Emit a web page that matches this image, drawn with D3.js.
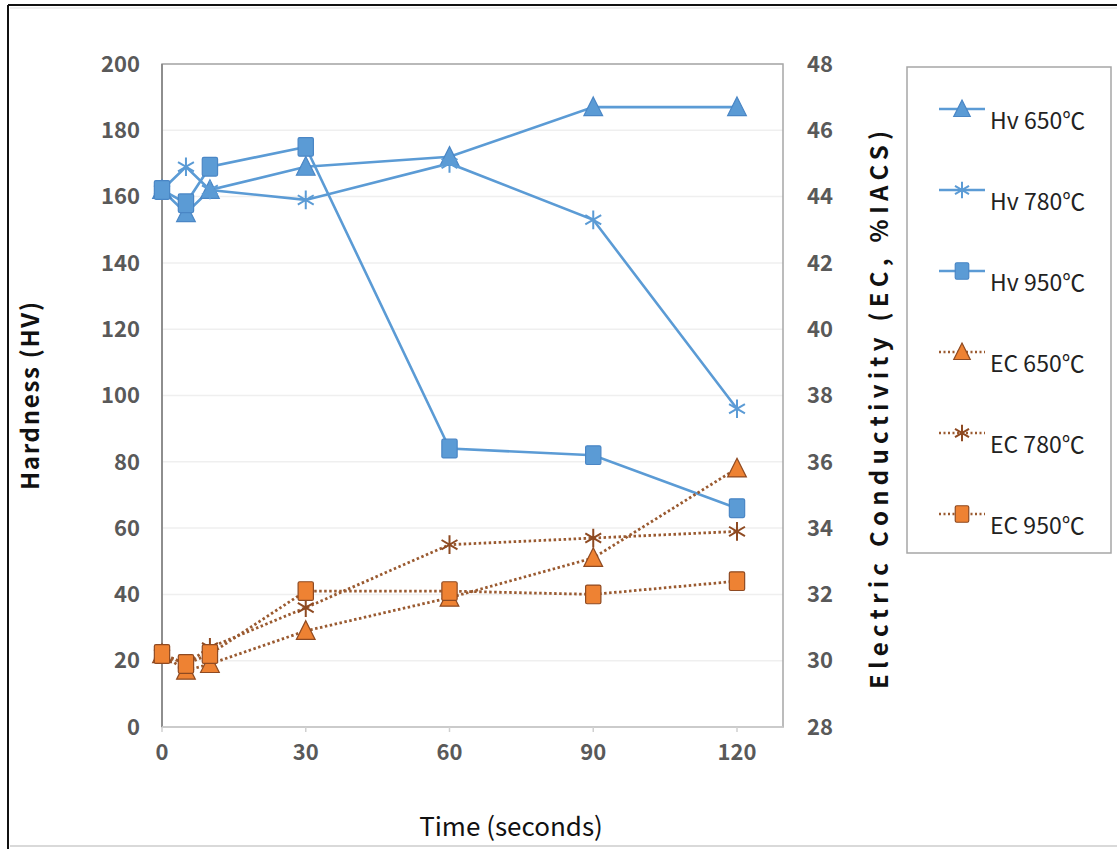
<!DOCTYPE html>
<html>
<head>
<meta charset="utf-8">
<script src="https://cdn.jsdelivr.net/npm/d3@7"></script>
<style>
  body { margin: 0; background: #fff; }
  svg { display: block; }
</style>
</head>
<body>
<script>
// data
var times = [0, 5, 10, 30, 60, 90, 120];
var hv650 = [162, 155, 162, 169, 172, 187, 187];
var hv780 = [162, 169, 162, 159, 170, 153, 96];
var hv950 = [162, 158, 169, 175, 84, 82, 66];
var ec650 = [30.2, 29.7, 29.9, 30.9, 31.9, 33.1, 35.8];
var ec780 = [30.2, 29.9, 30.4, 31.6, 33.5, 33.7, 33.9];
var ec950 = [30.2, 29.9, 30.2, 32.1, 32.1, 32.0, 32.4];
var leftTicks = [0, 20, 40, 60, 80, 100, 120, 140, 160, 180, 200];
var rightTicks = [28, 30, 32, 34, 36, 38, 40, 42, 44, 46, 48];
var xTicks = [0, 30, 60, 90, 120];
var seriesNames = ["Hv 650℃", "Hv 780℃", "Hv 950℃", "EC 650℃", "EC 780℃", "EC 950℃"];

var blue = "#5b9bd5";
var blueDark = "#4a86c5";
var orange = "#ee8233";
var brown = "#8e4a22";
var dotCol = "#9a5a30";
var textCol = "#595959";
var font = "'Noto Sans CJK KR', 'Noto Sans', sans-serif";

var W = 1117, H = 849;

var svg = d3.select("body").append("svg")
	.attr("width", W)
	.attr("height", H);

// outer frame
svg.append("rect").attr("x", 0).attr("y", 0).attr("width", W).attr("height", H).attr("fill", "#fff");
svg.append("line").attr("x1", 8).attr("x2", W).attr("y1", 5).attr("y2", 5)
	.attr("stroke", "#111").attr("stroke-width", 2);
svg.append("line").attr("x1", 8).attr("x2", 8).attr("y1", 5).attr("y2", H)
	.attr("stroke", "#111").attr("stroke-width", 2);
svg.append("line").attr("x1", 10).attr("x2", W).attr("y1", 8).attr("y2", 8)
	.attr("stroke", "#ddd").attr("stroke-width", 1);
svg.append("line").attr("x1", 10).attr("x2", W).attr("y1", 846).attr("y2", 846)
	.attr("stroke", "#ccc").attr("stroke-width", 1.5);

// plot area
var pl = 162, pr = 783, pt = 64, pb = 727;

var x = d3.scaleLinear().domain([0, 120]).range([pl, 737]);
var yL = d3.scaleLinear().domain([0, 200]).range([pb, pt]);
var yR = d3.scaleLinear().domain([28, 48]).range([pb, pt]);

// gridlines
svg.append("g").selectAll("line")
	.data(leftTicks.slice(1))
	.enter().append("line")
	.attr("x1", pl).attr("x2", pr)
	.attr("y1", d => yL(d)).attr("y2", d => yL(d))
	.attr("stroke", "#efefef").attr("stroke-width", 1.5);

// plot border
svg.append("rect")
	.attr("x", pl).attr("y", pt)
	.attr("width", pr - pl).attr("height", pb - pt)
	.attr("fill", "none").attr("stroke", "#a6a6a6").attr("stroke-width", 1.5);
svg.append("line").attr("x1", pl).attr("x2", pl).attr("y1", pt).attr("y2", pb)
	.attr("stroke", "#7f7f7f").attr("stroke-width", 1.5);
svg.append("line").attr("x1", pl).attr("x2", pr).attr("y1", pb).attr("y2", pb)
	.attr("stroke", "#d0d0d0").attr("stroke-width", 1.5);

// x ticks
svg.append("g").selectAll("line")
	.data(xTicks)
	.enter().append("line")
	.attr("x1", d => x(d)).attr("x2", d => x(d))
	.attr("y1", pb).attr("y2", pb + 5)
	.attr("stroke", "#d0d0d0").attr("stroke-width", 1.5);

// tick labels
svg.append("g").selectAll("text")
	.data(leftTicks)
	.enter().append("text")
	.attr("x", 140).attr("y", d => yL(d))
	.attr("dy", "0.35em")
	.attr("text-anchor", "end")
	.style("font", "bold 22px " + font)
	.style("fill", textCol)
	.text(d => d);

svg.append("g").selectAll("text")
	.data(rightTicks)
	.enter().append("text")
	.attr("x", 807).attr("y", d => yR(d))
	.attr("dy", "0.35em")
	.style("font", "bold 22px " + font)
	.style("fill", textCol)
	.text(d => d);

svg.append("g").selectAll("text")
	.data(xTicks)
	.enter().append("text")
	.attr("x", d => x(d)).attr("y", 752)
	.attr("dy", "0.35em")
	.attr("text-anchor", "middle")
	.style("font", "bold 22px " + font)
	.style("fill", textCol)
	.text(d => d);

// axis titles
svg.append("text")
	.attr("transform", "translate(31,396) rotate(-90)")
	.attr("text-anchor", "middle")
	.attr("dy", "0.35em")
	.attr("textLength", 188)
	.attr("lengthAdjust", "spacing")
	.style("font", "bold 24px " + font)
	.style("fill", "#111")
	.text("Hardness (HV)");

svg.append("text")
	.attr("transform", "translate(880,410) rotate(-90)")
	.attr("text-anchor", "middle")
	.attr("dy", "0.35em")
	.attr("textLength", 558)
	.attr("lengthAdjust", "spacing")
	.style("font", "bold 24px " + font)
	.style("fill", "#111")
	.text("Electric Conductivity (EC, %IACS)");

svg.append("text")
	.attr("x", 511).attr("y", 827)
	.attr("dy", "0.35em")
	.attr("text-anchor", "middle")
	.style("font", "26px " + font)
	.style("fill", "#111")
	.text("Time (seconds)");

// markers
function marker(g, type, cx, cy, fill, stroke, s) {
	if (type === "tri") {
		g.append("path")
			.attr("d", "M" + cx + "," + (cy - s * 0.6) + "L" + (cx + s * 0.55) + "," + (cy + s * 0.5) + "L" + (cx - s * 0.55) + "," + (cy + s * 0.5) + "Z")
			.attr("fill", fill).attr("stroke", stroke).attr("stroke-width", 1.2);
	} else if (type === "sq") {
		g.append("rect")
			.attr("x", cx - s * 0.45).attr("y", cy - s * 0.55)
			.attr("width", s * 0.9).attr("height", s * 1.1)
			.attr("rx", 1.5)
			.attr("fill", fill).attr("stroke", stroke).attr("stroke-width", 1.2);
	} else {
		var r = s * 0.55;
		var p = "M" + cx + "," + (cy - r) + "V" + (cy + r) +
			"M" + (cx - r * 0.85) + "," + (cy - r * 0.5) + "L" + (cx + r * 0.85) + "," + (cy + r * 0.5) +
			"M" + (cx - r * 0.85) + "," + (cy + r * 0.5) + "L" + (cx + r * 0.85) + "," + (cy - r * 0.5);
		g.append("path").attr("d", p)
			.attr("fill", "none").attr("stroke", stroke).attr("stroke-width", 2);
	}
}

var series = [
	{ vals: hv650, y: yL, type: "tri", dotted: false },
	{ vals: hv780, y: yL, type: "star", dotted: false },
	{ vals: hv950, y: yL, type: "sq", dotted: false },
	{ vals: ec650, y: yR, type: "tri", dotted: true },
	{ vals: ec780, y: yR, type: "star", dotted: true },
	{ vals: ec950, y: yR, type: "sq", dotted: true }
];

series.forEach(function (s) {
	var g = svg.append("g");
	var line = d3.line()
		.x((d, i) => x(times[i]))
		.y(d => s.y(d));
	g.append("path")
		.datum(s.vals)
		.attr("d", line)
		.attr("fill", "none")
		.attr("stroke", s.dotted ? dotCol : blue)
		.attr("stroke-width", s.dotted ? 2.8 : 2.6)
		.attr("stroke-dasharray", s.dotted ? "2.5,2.5" : null);
	s.vals.forEach(function (v, i) {
		if (s.dotted) {
			marker(g, s.type, x(times[i]), s.y(v), orange, brown, 17);
		} else {
			marker(g, s.type, x(times[i]), s.y(v), blue, s.type === "star" ? blue : blueDark, 17);
		}
	});
});

// legend
svg.append("rect")
	.attr("x", 907).attr("y", 67)
	.attr("width", 204).attr("height", 486)
	.attr("fill", "#fff").attr("stroke", "#a6a6a6").attr("stroke-width", 1.5);

seriesNames.forEach(function (name, i) {
	var s = series[i];
	var ly = 109 + i * 81;
	var g = svg.append("g");
	g.append("line")
		.attr("x1", 939).attr("x2", 985).attr("y1", ly).attr("y2", ly)
		.attr("stroke", s.dotted ? dotCol : blue)
		.attr("stroke-width", s.dotted ? 2.5 : 2.6)
		.attr("stroke-dasharray", s.dotted ? "2,2.5" : null);
	if (s.dotted) marker(g, s.type, 962, ly, orange, brown, 15);
	else marker(g, s.type, 962, ly, blue, s.type === "star" ? blue : blueDark, 15);
	g.append("text")
		.attr("x", 990).attr("y", ly + 12)
		.attr("dy", "0.35em")
		.style("font", "23px " + font)
		.style("fill", "#222")
		.text(name);
});
</script>
</body>
</html>
